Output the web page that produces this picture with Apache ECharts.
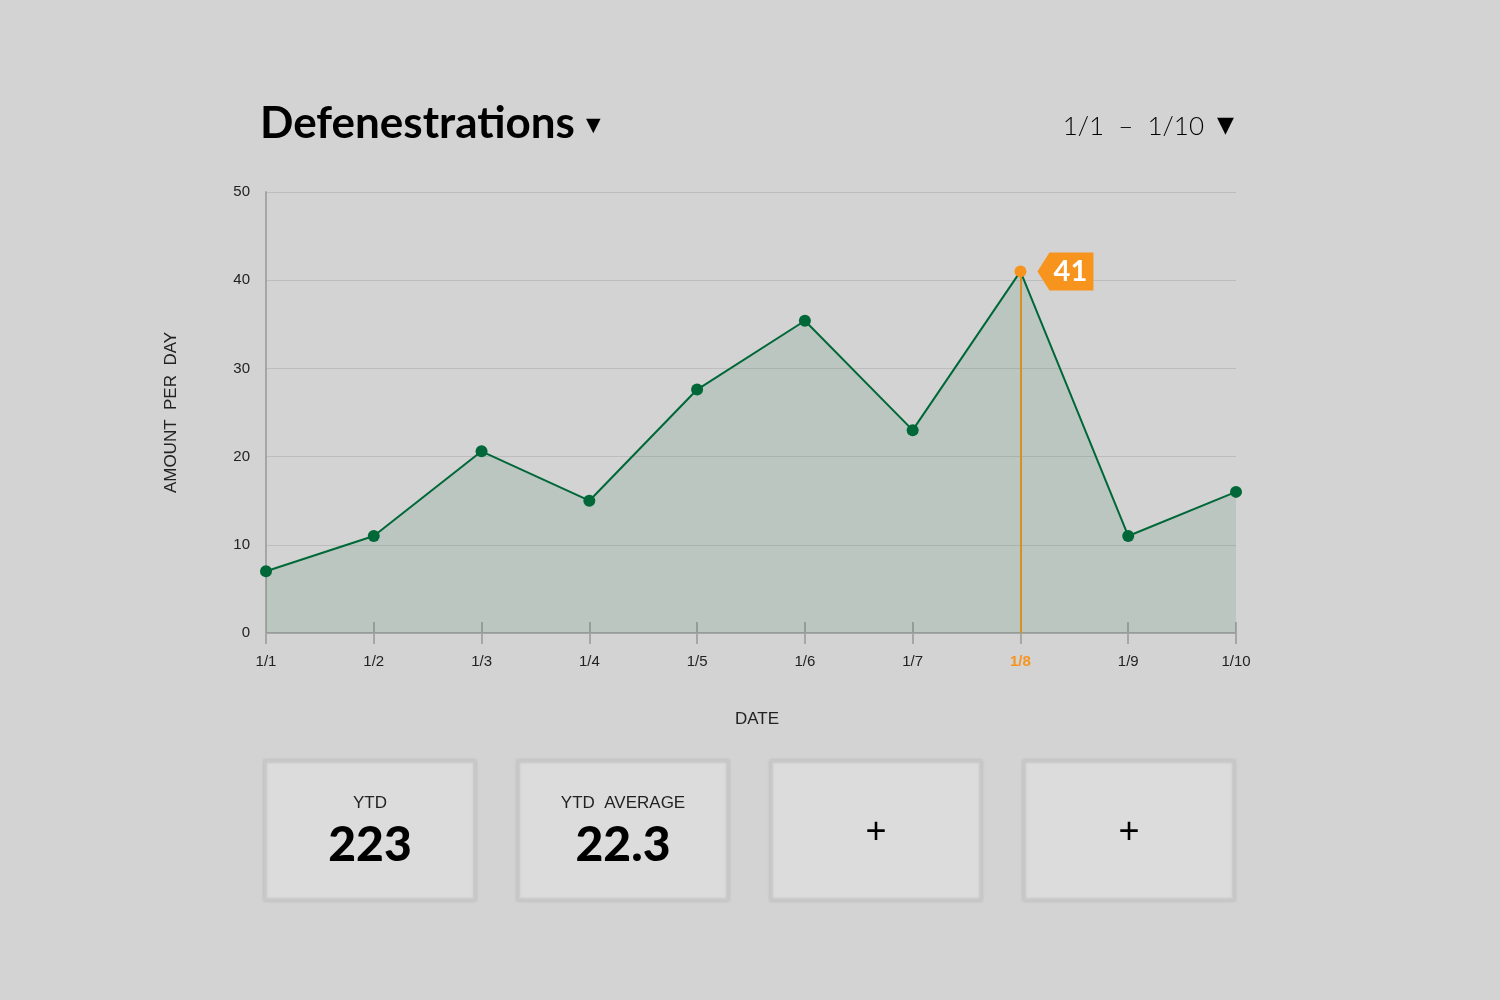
<!DOCTYPE html>
<html>
<head>
<meta charset="utf-8">
<style>
html,body{margin:0;padding:0;background:#d3d3d3;}
#c{width:1500px;height:1000px;}
</style>
<script src="https://cdn.jsdelivr.net/npm/echarts@6/dist/echarts.min.js"></script>
</head>
<body>
<div id="c"></div>
<script>
const dates = ['1/1','1/2','1/3','1/4','1/5','1/6','1/7','1/8','1/9','1/10'];
const amounts = [7, 11, 20.6, 15, 27.6, 35.4, 23, 41, 11, 16];
const highlightDate = '1/8';
const cardTitles = ['YTD', 'YTD  AVERAGE', '', ''];
const cardValues = ['223', '22.3', '+', '+'];

const GREEN = '#006838';
const ORANGE = '#f7941d';
const AXIS = '#a6a6a6';

const chart = echarts.init(document.getElementById('c'));

const seriesData = amounts.map((v, i) => dates[i] === highlightDate
  ? { value: v, itemStyle: { color: ORANGE }, symbolSize: 12 }
  : v);
const hiIdx = dates.indexOf(highlightDate);

const graphics = [
  { type: 'text', left: 260, top: 102, style: { text: 'Defenestrations', font: 'bold 44px Lato', fill: '#000' } },
  { type: 'text', left: 586, top: 117, style: { text: '▼', font: '19px "DejaVu Sans"', fill: '#000' } },
  { type: 'text', right: 296, top: 114, style: { text: '1/1  –  1/10', font: '300 26px Lato', fill: '#000' } },
  { type: 'text', right: 266, top: 115, style: { text: '▼', font: '22px "DejaVu Sans"', fill: '#000' } }
];
cardValues.forEach((val, i) => {
  const x = 265 + i * 253;
  graphics.push({
    type: 'rect', shape: { x: x, y: 761, width: 210, height: 139 },
    style: { fill: '#dcdcdc', stroke: '#c8c8c8', lineWidth: 3, shadowBlur: 3, shadowColor: 'rgba(0,0,0,0.10)' }
  });
  if (cardTitles[i]) {
    graphics.push({ type: 'text', x: x + 105, y: 803, style: { text: cardTitles[i], font: '17px "Liberation Sans"', fill: '#222', align: 'center', verticalAlign: 'middle' } });
    graphics.push({ type: 'text', x: x + 105, y: 846, style: { text: val, font: '900 48px Lato', fill: '#000', align: 'center', verticalAlign: 'middle' } });
  } else {
    graphics.push({ type: 'text', x: x + 105, y: 833, style: { text: val, font: '36px "Liberation Sans"', fill: '#000', align: 'center', verticalAlign: 'middle' } });
  }
});

chart.setOption({
  backgroundColor: '#d3d3d3',
  animation: false,
  grid: { left: 266, right: 264, top: 192, bottom: 367 },
  xAxis: [{
    type: 'category', data: dates, boundaryGap: false, position: 'bottom',
    name: 'DATE', nameLocation: 'middle', nameGap: 78,
    nameTextStyle: { fontFamily: 'Liberation Sans', fontSize: 17, color: '#222', padding: [0, 0, 0, 12] },
    axisLine: { show: true, lineStyle: { color: AXIS, width: 2 } },
    axisTick: { show: true, inside: false, length: 11, alignWithLabel: true, lineStyle: { color: AXIS, width: 2 } },
    axisLabel: {
      margin: 21, fontFamily: 'Liberation Sans', fontSize: 15, color: '#222',
      formatter: v => v === highlightDate ? '{hl|' + v + '}' : v,
      rich: { hl: { color: ORANGE, fontWeight: 'bold', fontFamily: 'Liberation Sans', fontSize: 15 } }
    },
    splitLine: { show: false }
  }, {
    type: 'category', data: dates, boundaryGap: false, position: 'bottom',
    axisLine: { show: false },
    axisTick: { show: true, inside: true, length: 11, lineStyle: { color: AXIS, width: 2 } },
    axisLabel: { show: false },
    splitLine: { show: false }
  }],
  yAxis: {
    type: 'value', min: 0, max: 50, interval: 10,
    name: 'AMOUNT  PER  DAY', nameLocation: 'middle', nameGap: 86, nameRotate: 90,
    nameTextStyle: { fontFamily: 'Liberation Sans', fontSize: 17, color: '#222' },
    axisLine: { show: true, lineStyle: { color: AXIS, width: 2 } },
    axisTick: { show: false },
    axisLabel: { margin: 16, fontFamily: 'Liberation Sans', fontSize: 15, color: '#222' },
    splitLine: { show: true, lineStyle: { color: '#bdbdbd', width: 1 } }
  },
  series: [{
    type: 'line', data: seriesData, xAxisIndex: 0,
    symbol: 'circle', symbolSize: 12, showAllSymbol: true,
    lineStyle: { color: GREEN, width: 2 },
    itemStyle: { color: GREEN },
    areaStyle: { color: GREEN, opacity: 0.11 },
    z: 3,
    markLine: {
      silent: true, symbol: 'none', label: { show: false },
      lineStyle: { color: ORANGE, width: 2, type: 'solid' },
      data: [[{ coord: [hiIdx, amounts[hiIdx]] }, { coord: [hiIdx, 0] }]],
      z: 2
    },
    markPoint: {
      silent: true,
      symbol: 'path://M0,19 L12,0 L56,0 L56,38 L12,38 Z',
      symbolSize: [56, 38], symbolKeepAspect: false,
      symbolOffset: [45, 0],
      itemStyle: { color: ORANGE },
      label: { show: true, color: '#fff', fontFamily: 'Lato', fontWeight: 'bold', fontSize: 29, offset: [5, 0], formatter: p => String(p.value) },
      data: [{ coord: [hiIdx, amounts[hiIdx]], value: amounts[hiIdx] }]
    }
  }],
  graphic: graphics
});
</script>
</body>
</html>
